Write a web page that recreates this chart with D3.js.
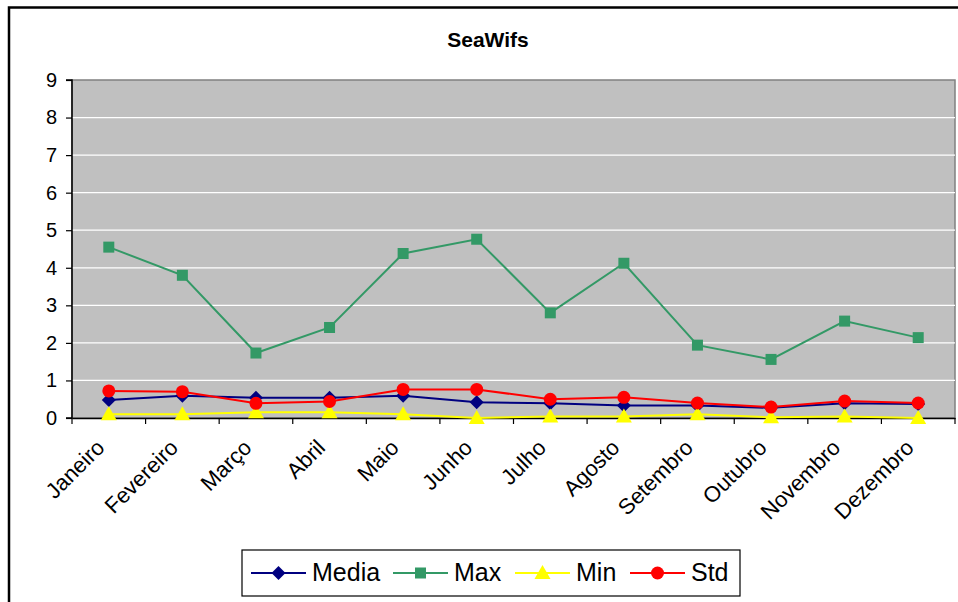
<!DOCTYPE html>
<html><head><meta charset="utf-8">
<script src="https://cdn.jsdelivr.net/npm/d3@7"></script>
<style>body{margin:0;background:#fff;} svg{display:block;font-family:"Liberation Sans",Arial,sans-serif;}</style>
</head><body><svg id="c" width="958" height="602"></svg>
<script>
const months = ["Janeiro","Fevereiro","Março","Abril","Maio","Junho","Julho","Agosto","Setembro","Outubro","Novembro","Dezembro"];
const media = [0.48,0.59,0.54,0.54,0.59,0.42,0.39,0.33,0.33,0.27,0.39,0.37];
const maxv  = [4.55,3.80,1.73,2.41,4.38,4.76,2.80,4.12,1.94,1.56,2.58,2.14];
const minv  = [0.10,0.10,0.15,0.15,0.10,0.00,0.04,0.04,0.10,0.02,0.04,0.00];
const stdv  = [0.72,0.70,0.39,0.44,0.76,0.76,0.50,0.55,0.40,0.29,0.45,0.40];
const yTicks = [0,1,2,3,4,5,6,7,8,9];
const series = [
  {name:"Media", values:media, color:"#000080", marker:"diamond"},
  {name:"Max", values:maxv, color:"#339966", marker:"square"},
  {name:"Min", values:minv, color:"#FFFF00", marker:"triangle"},
  {name:"Std", values:stdv, color:"#FF0000", marker:"circle"}
];

const svg = d3.select("#c");
const L=72, R=955, T=80, B=418;
// outer frame
svg.append("rect").attr("x",9).attr("y",7.5).attr("width",960).attr("height",610)
  .attr("fill","none").attr("stroke","#000").attr("stroke-width",2.5);

const x = d3.scaleBand().domain(months).range([L,R]);
const y = d3.scaleLinear().domain([0,9]).range([B,T]);

svg.append("rect").attr("x",L).attr("y",T).attr("width",R-L).attr("height",B-T)
  .attr("fill","#C0C0C0").attr("stroke","#808080").attr("stroke-width",1.5);
// gridlines
svg.append("g").selectAll("line").data(yTicks.filter(d=>d>0&&d<9)).join("line")
  .attr("x1",L).attr("x2",R).attr("y1",d=>y(d)).attr("y2",d=>y(d))
  .attr("stroke","#fff").attr("stroke-width",1.2);

// axes
const ya = svg.append("g").attr("transform",`translate(${L},0)`)
  .call(d3.axisLeft(y).tickValues(yTicks).tickSize(6).tickPadding(9).tickFormat(d3.format("d")));
ya.select(".domain").attr("stroke","#000").attr("stroke-width",1.5).attr("d",`M-6,${T}H0V${B}H-6`);
ya.selectAll("line").attr("stroke","#000").attr("stroke-width",1.2);
ya.selectAll("text").attr("font-size",20).attr("fill","#000").attr("font-family","Liberation Sans, Arial, sans-serif");

const xa = svg.append("g").attr("transform",`translate(0,${B})`)
  .call(d3.axisBottom(x).tickSize(0).tickFormat(""));
xa.select(".domain").attr("stroke","#000").attr("stroke-width",1.5);
// ticks at band boundaries
const bounds = months.map(m=>x(m)).concat([R]);
svg.append("g").selectAll("line").data(bounds).join("line")
  .attr("x1",d=>d).attr("x2",d=>d).attr("y1",B).attr("y2",B+6)
  .attr("stroke","#000").attr("stroke-width",1.2);
svg.append("g").selectAll("text").data(months).join("text")
  .attr("transform",d=>`translate(${x(d)+x.bandwidth()/2-3},${B+31}) rotate(-45)`)
  .attr("text-anchor","end").attr("font-size",22).attr("fill","#000").text(d=>d);

// title
svg.append("text").attr("x",488).attr("y",47).attr("text-anchor","middle")
  .attr("font-weight","bold").attr("font-size",21).text("SeaWifs");

function drawMarker(g, type, color, cx, cy){
  if(type==="diamond") g.append("path").attr("d",`M${cx},${cy-7}L${cx+7},${cy}L${cx},${cy+7}L${cx-7},${cy}Z`).attr("fill",color);
  else if(type==="square") g.append("rect").attr("x",cx-5.5).attr("y",cy-5.5).attr("width",11).attr("height",11).attr("fill",color);
  else if(type==="triangle") g.append("path").attr("d",`M${cx},${cy-8}L${cx+8},${cy+6}L${cx-8},${cy+6}Z`).attr("fill",color);
  else g.append("circle").attr("cx",cx).attr("cy",cy).attr("r",6.5).attr("fill",color);
}

const cxf = m => x(m)+x.bandwidth()/2;
const line = d3.line().x((d,i)=>cxf(months[i])).y(d=>y(d));
series.forEach(s=>{
  const g = svg.append("g");
  g.append("path").attr("d",line(s.values)).attr("fill","none").attr("stroke",s.color).attr("stroke-width",2);
  s.values.forEach((v,i)=>drawMarker(g,s.marker,s.color,cxf(months[i]),y(v)));
});

// legend
const lg = svg.append("g");
lg.append("rect").attr("x",242).attr("y",550).attr("width",498).attr("height",46)
  .attr("fill","#fff").attr("stroke","#000").attr("stroke-width",1.2);
const lx = [251,393,515,630];
series.forEach((s,i)=>{
  const g = lg.append("g");
  g.append("line").attr("x1",lx[i]).attr("x2",lx[i]+55).attr("y1",573).attr("y2",573).attr("stroke",s.color).attr("stroke-width",2);
  drawMarker(g,s.marker,s.color,lx[i]+27.5,573);
  g.append("text").attr("x",lx[i]+61).attr("y",581).attr("font-size",25).attr("fill","#000").text(s.name);
});
</script></body></html>
